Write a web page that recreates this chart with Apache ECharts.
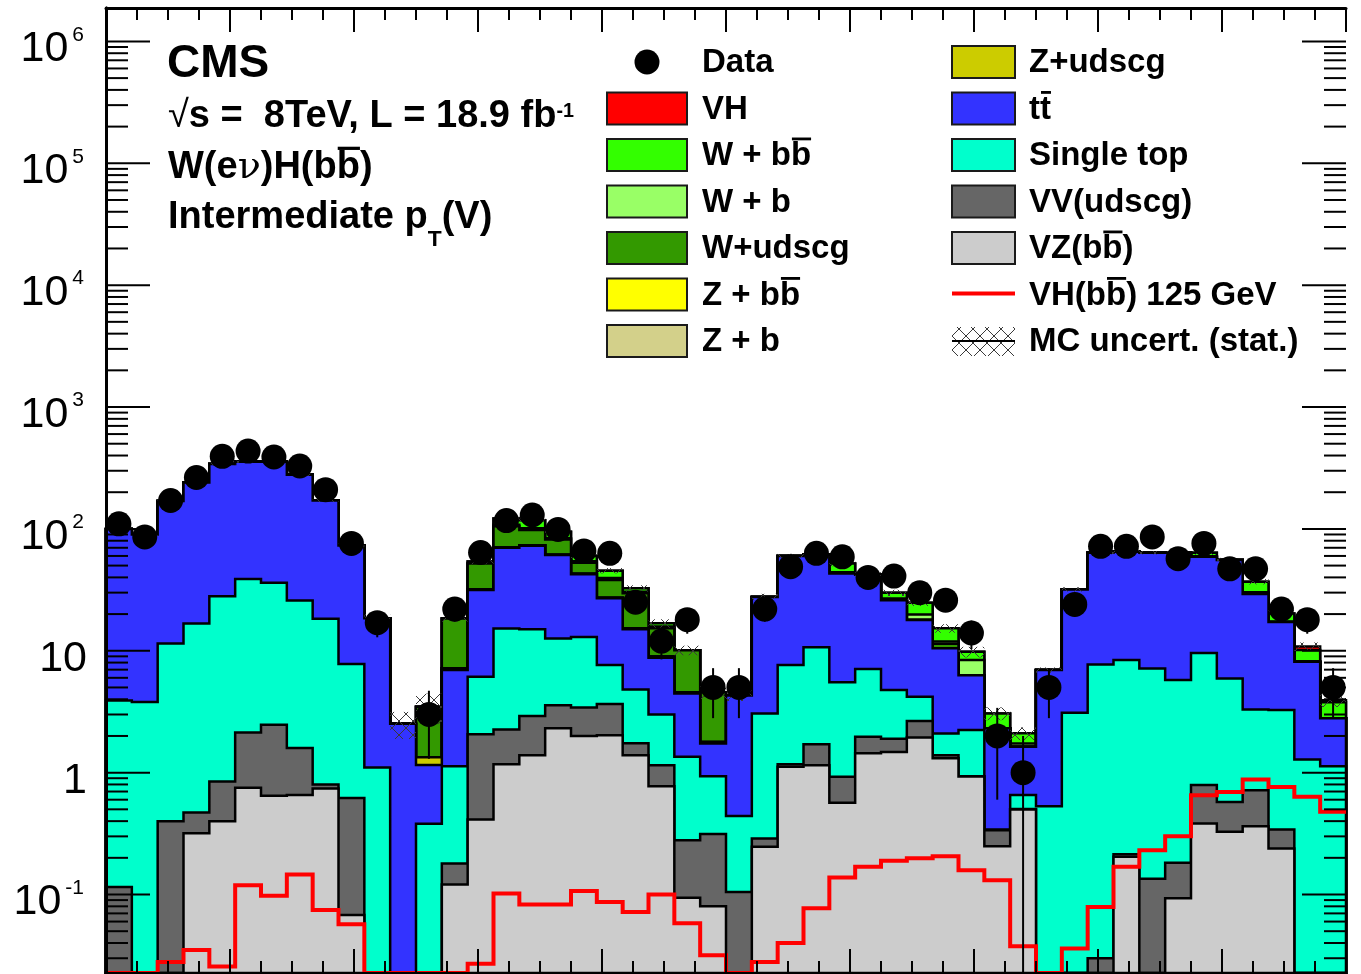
<!DOCTYPE html>
<html>
<head>
<meta charset="utf-8">
<script src="https://cdn.jsdelivr.net/npm/echarts@6/dist/echarts.min.js"></script>
<style>html,body{margin:0;padding:0;background:#fff}#c{width:1361px;height:974px}</style>
</head>
<body>
<div id="c"></div>
<script>
// ---------------- axis setup ----------------
const nBins = 48;
const xMin = 0, xMax = 40;
const yMin = 0.0227, yMax = 1.88e6;
const yTickValues = [0.1, 1, 10, 100, 1000, 10000, 100000, 1000000];

// ---------------- data (per bin) ----------------
const dataCounts = [110,86,171,264,394,435,389,328,210,76,17,0, 3,22,64,117,130,99,66,63,25,12,18,5, 5,22,49,63,59,40,41,30,26,14,2,1, 5,24,72,72,86,57,76,47,47,22,18,5];
const dataErr = [10.5,9.3,13.1,16.2,19.8,20.9,19.7,18.1,14.5,8.7,4.1,0, 1.7,4.7,8,10.8,11.4,9.9,8.1,7.9,5,3.5,4.2,2.2, 2.2,4.7,7,7.9,7.7,6.3,6.4,5.5,5.1,3.7,1.4,1, 2.2,4.9,8.5,8.5,9.3,7.5,8.7,6.9,6.9,4.7,4.2,2.2];

// stacked backgrounds, bottom to top
const vzbb = [0.01,0.005,0.01,0.318,0.40,0.75,0.647,0.656,0.74,0.068,0.005,0.003, 0.005,0.121,0.413,1.17,1.39,2.31,2.0,2.03,1.39,0.775,0.094,0.08, 0.005,0.246,1.12,1.15,0.565,1.44,1.48,1.94,1.31,0.93,0.249,0.499, 0.005,0.005,0.005,0.204,0.005,0.093,0.383,0.327,0.364,0.239,0.005,0.005];
const vvudscg = [0.105,0.01,0.39,0.152,0.445,1.39,1.82,0.934,0.06,0.552,0.01,0.005, 0.01,0.059,1.657,1.09,1.52,1.27,1.43,1.62,0.35,0.375,0.185,0.233, 0.1,0.042,0.05,0.56,0.36,0.53,0.42,0.71,0.08,0.005,0.088,0.005, 0.005,0.005,0.025,0.01,0.13,0.089,0.407,0.248,0.354,0.103,0.005,0.005];
const singleTop = [3.8,3.78,11.1,16.3,27.2,36.6,33.7,24.3,17.5,7.18,1.085,0.012, 0.366,0.95,4.05,13.0,12.1,9.0,9.57,3.99,3.08,1.85,1.07,0.62, 0.335,2.77,6.47,9.0,4.58,5.11,2.86,1.54,0.71,1.3,0.005,0.15, 0.52,3.09,7.7,8.19,7.03,5.58,8.81,5.35,2.58,2.92,1.27,1.12];
const ttbar = [96,86,158,223,312,317,320,252,153,65.2,17.4,2.5, 0.774,5.82,25.4,54.7,57.8,48.4,29.4,19.3,10.2,5.77,3.12,0.805, 3.86,24.6,52.4,51.3,37.5,34.9,21.2,13.7,8.4,4.07,1.97,0.977, 6.42,28.8,56,56.6,56.6,58,49.4,49.7,25.9,14,6.85,1.66];
const zudscg = [0,0,0,0,0,0,0,0,0,0,0,0, 0.18,0.25,0.3,0.5,0.5,0.5,0.4,0.3,0.3,0.2,0.1,0.05, 0,0,0,0,0,0,0,0,0,0,0,0, 0,0,0,0,0,0,0,0,0,0,0,0];
const zb = [0,0,0,0,0,0,0,0,0,0,0,0, 0,0,0,0,0,0,0,0,0,0,0,0, 0,0,0,0,0,0,0,0,0,0,0,0, 0,0,0,0,0,0,0,0,0,0,0,0];
const zbb = [0,0,0,0,0,0,0,0,0,0,0,0, 0,0,0,0,0,0,0,0,0,0,0,0, 0,0,0,0,0,0,0,0,0,0,0,0, 0,0,0,0,0,0,0,0,0,0,0,0];
const wudscg = [0,0,0,0,0,0,0,0,0,0,0,0, 2.14,11.2,20.2,34.5,24.7,20.5,10,10.8,14.3,6.33,5.53,2.78, 0,0,0,0,0,0,0,0,0.9,0,0,0, 0,0,0,0,0,0,0,0,0,0,0,0];
const wb = [0,0,0,0,0,0,0,0,0,0,0,0, 0,0,0,3,3,2,1.5,1.5,0.9,0.5,0,0, 0,0,0,0,1,0,0.9,2,0.5,2.09,0,0.1, 0,0,0,0,0,0,0,0,1,0,0,0];
const wbb = [0,0,0,0,0,0,0,0,0,0,0,0, 0,0,2,14,17,11,5.7,5.9,2,1,0,0, 0,0,0,0,8,0,3,4.9,3.4,1.4,0.75,0.37, 0,0,0,0,0,0,4.8,0,6.7,3,2,1];
const vh = [0,0,0,0,0,0,0,0,0,0,0,0, 0,0,0,0,0,0,0,0,0,0,0,0, 0,0,0,0,0,0,0,0,0,0,0,0, 0,0,0,0,0,0,0,0,0,0,0.7,0.14];

// unstacked signal shape VH(bb) 125 GeV
const vhSignal = [0.01,0.01,0.028,0.035,0.0257,0.119,0.0975,0.146,0.0746,0.057,0.01,0.01, 0.01,0.01,0.027,0.102,0.083,0.083,0.107,0.087,0.072,0.1,0.058,0.0318, 0.01,0.028,0.04,0.077,0.138,0.169,0.189,0.198,0.206,0.158,0.131,0.0377, 0.01,0.036,0.079,0.169,0.231,0.301,0.653,0.695,0.88,0.763,0.633,0.477];

// relative MC statistical uncertainty of the total
const mcRelErr = [0.04,0.04,0.03,0.03,0.02,0.02,0.02,0.02,0.03,0.04,0.08,0.25, 0.28,0.06,0.05,0.04,0.04,0.04,0.05,0.05,0.06,0.08,0.09,0.12, 0.10,0.06,0.04,0.04,0.05,0.05,0.06,0.06,0.08,0.10,0.12,0.12, 0.05,0.04,0.03,0.03,0.03,0.03,0.04,0.04,0.05,0.06,0.08,0.12];

const components = [
  {name: 'VZ(bb)', values: vzbb, color: '#cccccc'},
  {name: 'VV(udscg)', values: vvudscg, color: '#666666'},
  {name: 'Single top', values: singleTop, color: '#00ffcc'},
  {name: 'ttbar', values: ttbar, color: '#3333ff'},
  {name: 'Z+udscg', values: zudscg, color: '#cccc00'},
  {name: 'Z+b', values: zb, color: '#d3d08a'},
  {name: 'Z+bb', values: zbb, color: '#ffff00'},
  {name: 'W+udscg', values: wudscg, color: '#339900'},
  {name: 'W+b', values: wb, color: '#99ff66'},
  {name: 'W+bb', values: wbb, color: '#33ff00'},
  {name: 'VH', values: vh, color: '#ff0000'}
];

// ---------------- derived ----------------
const bw = (xMax - xMin) / nBins;
let running = new Array(nBins).fill(0);
const cumulative = components.map(c => { running = running.map((r, i) => r + c.values[i]); return running.slice(); });
const total = cumulative[cumulative.length - 1];
const clampY = v => Math.min(Math.max(v, yMin), yMax);

const yMinorTickValues = [];
for (let e = -2; e <= 6; e++) for (let k = 2; k <= 9; k++) {
  const v = +(k * Math.pow(10, e)).toPrecision(3);
  if (v > yMin && v < yMax) yMinorTickValues.push(v);
}

function hatchCanvas() {
  const c = document.createElement('canvas'); c.width = 14; c.height = 14;
  const g = c.getContext('2d');
  g.strokeStyle = '#3a3a3a'; g.lineWidth = 1;
  g.beginPath(); g.moveTo(0, 0); g.lineTo(14, 14); g.moveTo(14, 0); g.lineTo(0, 14); g.stroke();
  return c;
}
const hatch = hatchCanvas();

// ---------------- series ----------------
const series = [];
for (let k = components.length - 1; k >= 0; k--) {
  const col = components[k].color;
  series.push({
    type: 'custom', name: components[k].name, z: 2,
    xAxisIndex: 0, yAxisIndex: 0,
    data: [cumulative[k]],
    renderItem: function (params, api) {
      const pts = [api.coord([xMin, yMin])];
      for (let i = 0; i < nBins; i++) {
        const v = clampY(api.value(i));
        pts.push(api.coord([xMin + i * bw, v]));
        pts.push(api.coord([xMin + (i + 1) * bw, v]));
      }
      pts.push(api.coord([xMax, yMin]));
      return {type: 'polygon', shape: {points: pts}, style: {fill: col, stroke: '#000', lineWidth: 2.5}};
    }
  });
}

// MC uncertainty band
series.push({
  type: 'custom', z: 3, xAxisIndex: 0, yAxisIndex: 0,
  data: total.map((t, i) => [i, t * (1 - mcRelErr[i]), t * (1 + mcRelErr[i])]),
  renderItem: function (params, api) {
    const i = api.value(0);
    const p1 = api.coord([xMin + i * bw, clampY(api.value(2))]);
    const p2 = api.coord([xMin + (i + 1) * bw, clampY(api.value(1))]);
    return {type: 'rect', shape: {x: p1[0], y: p1[1], width: p2[0] - p1[0], height: p2[1] - p1[1]},
      style: {fill: {image: hatch, repeat: 'repeat'}, stroke: null}};
  }
});

// signal line
series.push({
  type: 'custom', z: 4, xAxisIndex: 0, yAxisIndex: 0,
  data: [vhSignal],
  renderItem: function (params, api) {
    const pts = [];
    for (let i = 0; i < nBins; i++) {
      const v = clampY(api.value(i));
      pts.push(api.coord([xMin + i * bw, v]));
      pts.push(api.coord([xMin + (i + 1) * bw, v]));
    }
    return {type: 'polyline', shape: {points: pts}, style: {stroke: '#ff0000', lineWidth: 4, fill: null}};
  }
});

// y-axis ticks (major & minor, both sides) placed through the log scale
const yTickItems = yTickValues.map(v => [v, 44]).concat(yMinorTickValues.map(v => [v, 22]));
series.push({
  type: 'custom', z: 7, xAxisIndex: 0, yAxisIndex: 0, silent: true,
  data: yTickItems,
  encode: {x: -1, y: 0},
  renderItem: function (params, api) {
    const v = api.value(0), len = api.value(1);
    const l = api.coord([xMin, v]), r = api.coord([xMax, v]);
    return {type: 'group', children: [
      {type: 'line', shape: {x1: l[0], y1: l[1], x2: l[0] + len, y2: l[1]}, style: {stroke: '#000', lineWidth: 2}},
      {type: 'line', shape: {x1: r[0], y1: r[1], x2: r[0] - len, y2: r[1]}, style: {stroke: '#000', lineWidth: 2}}
    ]};
  }
});

// data error bars and points
const dataPts = [], dataBars = [];
dataCounts.forEach((n, i) => {
  if (n > 0) {
    const xc = xMin + (i + 0.5) * bw;
    dataPts.push([xc, n]);
    dataBars.push([xc, n - dataErr[i], n + dataErr[i]]);
  }
});
series.push({
  type: 'custom', z: 8, xAxisIndex: 0, yAxisIndex: 0,
  data: dataBars,
  renderItem: function (params, api) {
    const a = api.coord([api.value(0), clampY(api.value(1))]);
    const b = api.coord([api.value(0), clampY(api.value(2))]);
    return {type: 'line', shape: {x1: a[0], y1: a[1], x2: b[0], y2: b[1]}, style: {stroke: '#000', lineWidth: 2}};
  }
});
series.push({
  type: 'scatter', z: 9, xAxisIndex: 0, yAxisIndex: 0,
  symbol: 'circle', symbolSize: 25, itemStyle: {color: '#000', opacity: 1},
  data: dataPts
});

// ---------------- text helpers ----------------
const mctx = document.createElement('canvas').getContext('2d');
const SANS = '"Liberation Sans", Arial, Helvetica, sans-serif';
function tw(s, font) { mctx.font = font; return mctx.measureText(s).width; }
function richLine(x, yMid, parts, size) {
  const els = [];
  let cx = x;
  for (const p of parts) {
    let fs = size, dy = 0, fam = SANS, wt = 'bold';
    if (p.sup) { fs = size * 0.52; dy = -size * 0.14; }
    if (p.sub) { fs = size * 0.6; dy = size * 0.58; }
    if (p.serif) { fam = '"DejaVu Serif", "Liberation Serif", serif'; wt = 'normal'; }
    if (p.plain) { wt = 'normal'; }
    const font = wt + ' ' + fs + 'px ' + fam;
    const w = tw(p.t, font);
    els.push({type: 'text', x: cx, y: yMid + dy, silent: true, z: 100,
      style: {text: p.t, font: font, fill: '#000', align: 'left', verticalAlign: 'middle'}});
    if (p.over) {
      els.push({type: 'rect', silent: true, z: 100,
        shape: {x: cx + 1, y: yMid - size * 0.56, width: w - 1, height: Math.max(2.5, size * 0.085)},
        style: {fill: '#000'}});
    }
    cx += w + (p.gap || 0);
  }
  return els;
}

// ---------------- annotation + legend ----------------
const g = [];
g.push(...richLine(167, 64, [{t: 'CMS'}], 46));
g.push(...richLine(168, 117, [{t: '\u221A', plain: true}, {t: 's =  8TeV, L = 18.9 fb'}, {t: '-1', sup: true}], 38));
g.push(...richLine(168, 168, [{t: 'W(e'}, {t: '\u03BD', serif: true}, {t: ')H(b'}, {t: 'b', over: true}, {t: ')'}], 38));
g.push(...richLine(168, 218, [{t: 'Intermediate p'}, {t: 'T', sub: true}, {t: '(V)'}], 38));

const rowY = i => 62 + 46.5 * i;
const LFS = 33;
const leftItems = [
  {kind: 'marker', label: [{t: 'Data'}]},
  {kind: 'box', color: '#ff0000', label: [{t: 'VH'}]},
  {kind: 'box', color: '#33ff00', label: [{t: 'W + b'}, {t: 'b', over: true}]},
  {kind: 'box', color: '#99ff66', label: [{t: 'W + b'}]},
  {kind: 'box', color: '#339900', label: [{t: 'W+udscg'}]},
  {kind: 'box', color: '#ffff00', label: [{t: 'Z + b'}, {t: 'b', over: true}]},
  {kind: 'box', color: '#d3d08a', label: [{t: 'Z + b'}]}
];
const rightItems = [
  {kind: 'box', color: '#cccc00', label: [{t: 'Z+udscg'}]},
  {kind: 'box', color: '#3333ff', label: [{t: 't'}, {t: 't', over: true}]},
  {kind: 'box', color: '#00ffcc', label: [{t: 'Single top'}]},
  {kind: 'box', color: '#666666', label: [{t: 'VV(udscg)'}]},
  {kind: 'box', color: '#cccccc', label: [{t: 'VZ(b'}, {t: 'b', over: true}, {t: ')'}]},
  {kind: 'line', label: [{t: 'VH(b'}, {t: 'b', over: true}, {t: ') 125 GeV'}]},
  {kind: 'hatch', label: [{t: 'MC uncert. (stat.)'}]}
];
function legendColumn(items, bx, bwid, tx) {
  items.forEach((it, i) => {
    const yc = rowY(i);
    if (it.kind === 'marker') {
      g.push({type: 'circle', silent: true, z: 100, shape: {cx: bx + bwid / 2, cy: yc, r: 12.5}, style: {fill: '#000'}});
    } else if (it.kind === 'box') {
      g.push({type: 'rect', silent: true, z: 100, shape: {x: bx, y: yc - 16, width: bwid, height: 32},
        style: {fill: it.color, stroke: '#1a1a1a', lineWidth: 2}});
    } else if (it.kind === 'line') {
      g.push({type: 'line', silent: true, z: 100, shape: {x1: bx, y1: yc - 1, x2: bx + bwid, y2: yc - 1},
        style: {stroke: '#ff0000', lineWidth: 4}});
    } else if (it.kind === 'hatch') {
      g.push({type: 'rect', silent: true, z: 100, shape: {x: bx, y: yc - 14, width: bwid, height: 29},
        style: {fill: {image: hatch, repeat: 'repeat'}, stroke: null}});
      g.push({type: 'line', silent: true, z: 100, shape: {x1: bx, y1: yc, x2: bx + bwid, y2: yc},
        style: {stroke: '#000', lineWidth: 2}});
    }
    g.push(...richLine(tx, yc + 1, it.label, LFS));
  });
}
legendColumn(leftItems, 607, 80, 702);
legendColumn(rightItems, 952, 63, 1029);

// ---------------- axes ----------------
const frameLine = {show: true, lineStyle: {color: '#000', width: 3}};
function xAxisDef(pos) {
  return {
    type: 'value', position: pos, min: xMin, max: xMax, interval: 4, z: 5,
    axisLine: frameLine,
    axisTick: {show: true, inside: true, length: 24, lineStyle: {color: '#000', width: 2}},
    minorTick: {show: true, splitNumber: 4, length: 12, lineStyle: {color: '#000', width: 2}},
    axisLabel: {show: false}, splitLine: {show: false}, minorSplitLine: {show: false}
  };
}
function yAxisDef(pos) {
  return {
    type: 'log', logBase: 10, position: pos, min: yMin, max: yMax, z: 5,
    axisLine: frameLine,
    axisTick: {show: false},
    minorTick: {show: false},
    axisLabel: (pos === 'left') ? {
      show: true, customValues: yTickValues, margin: 19, padding: [16, 0, 0, 0],
      formatter: function (v) {
        const e = Math.round(Math.log10(v));
        if (e === 0) return '{b|1}';
        if (e === 1) return '{b|10}';
        return '{b|10}{s|' + e + '}';
      },
      rich: {
        b: {fontSize: 43, lineHeight: 50, fontFamily: 'Liberation Sans', color: '#000'},
        s: {fontSize: 21, fontFamily: 'Liberation Sans', color: '#000', verticalAlign: 'top', padding: [0, 3, 0, 4]}
      }
    } : {show: false},
    splitLine: {show: false}
  };
}

const option = {
  animation: false,
  backgroundColor: '#ffffff',
  grid: {left: 106, right: 15, top: 8, bottom: 1, containLabel: false},
  xAxis: [xAxisDef('bottom'), xAxisDef('top')],
  yAxis: [yAxisDef('left'), yAxisDef('right')],
  graphic: {elements: g},
  series: series
};

const chart = echarts.init(document.getElementById('c'), null, {renderer: 'canvas'});
chart.setOption(option);
</script>
</body>
</html>
